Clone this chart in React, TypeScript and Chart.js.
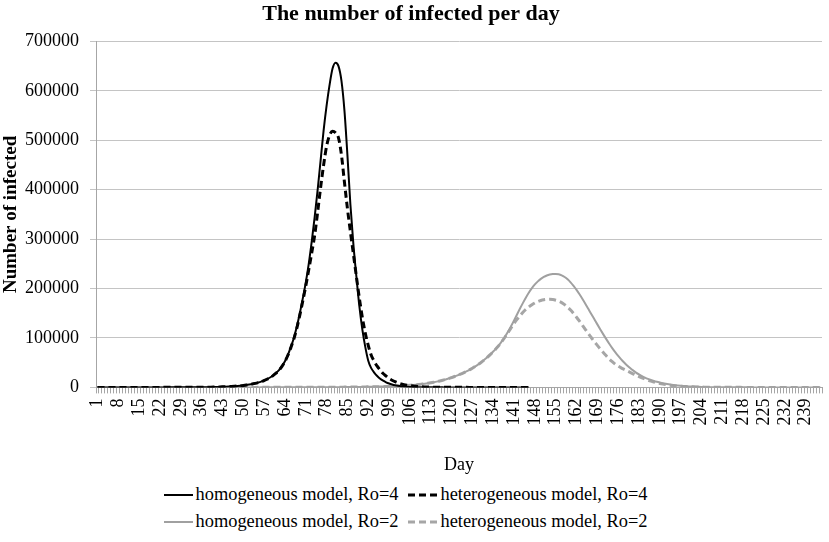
import { Chart, registerables } from "chart.js";
import React, { useEffect, useRef } from "react";

Chart.register(...registerables);

const SERIF = "'Liberation Serif', 'Times New Roman', serif";

// day categories 1..244
const days: string[] = Array.from({ length: 244 }, (_, i) => String(i + 1));

// homogeneous model, Ro=4 (days 1-146)
const homRo4: number[] = [
    1, 1, 2, 2, 3, 3, 4, 5, 6, 7,
    8, 10, 11, 13, 15, 18, 21, 24, 28, 32,
    37, 43, 50, 58, 67, 78, 90, 105, 120, 140,
    160, 190, 220, 260, 300, 350, 410, 475, 555, 650,
    780, 940, 1120, 1350, 1620, 1950, 2340, 2800, 3350, 4000,
    4800, 5800, 6900, 8200, 9800, 11700, 14000, 16700, 20000, 24000,
    29000, 35000, 43000, 53000, 66000, 82000, 100000, 123000, 150000, 180000,
    212000, 250000, 295000, 345000, 400000, 460000, 520000, 570000, 612000, 645000,
    657000, 650000, 620000, 560000, 470000, 370000, 290000, 225000, 165000, 118000,
    82000, 54000, 39000, 30000, 23000, 17500, 13500, 10300, 7800, 5900,
    4400, 3300, 2500, 1900, 1400, 1050, 800, 600, 450, 340,
    260, 200, 150, 115, 90, 70, 55, 45, 36, 30,
    25, 21, 18, 15, 13, 11, 10, 9, 8, 7,
    6, 6, 5, 5, 4, 4, 4, 3, 3, 3,
    3, 2, 2, 2, 2, 2,
];

// heterogeneous model, Ro=4 (days 1-146)
const hetRo4: number[] = [
    1, 1, 2, 2, 3, 3, 4, 5, 6, 7,
    8, 10, 11, 13, 15, 18, 21, 24, 28, 32,
    37, 43, 50, 58, 67, 78, 90, 104, 120, 138,
    158, 186, 216, 254, 295, 344, 402, 466, 545, 635,
    770, 925, 1100, 1330, 1600, 1920, 2300, 2760, 3300, 3950,
    4750, 5700, 6800, 8100, 9700, 11600, 13900, 16500, 19800, 23800,
    28800, 34700, 42500, 52500, 65000, 80500, 98000, 120000, 146000, 175000,
    205000, 238000, 272000, 308000, 355000, 405000, 450000, 488000, 510000, 518000,
    515000, 505000, 470000, 415000, 362000, 315000, 270000, 225000, 181000, 142000,
    110000, 85000, 65000, 53000, 43000, 35000, 28000, 23000, 18000, 14500,
    11500, 9000, 7000, 5500, 4300, 3400, 2700, 2100, 1650, 1300,
    1000, 800, 630, 500, 400, 320, 260, 210, 170, 140,
    115, 95, 80, 66, 55, 46, 39, 33, 28, 24,
    21, 18, 16, 14, 12, 11, 10, 9, 8, 7,
    6, 6, 5, 5, 4, 4,
];

// homogeneous model, Ro=2 (days 1-244)
const homRo2: number[] = [
    1, 1, 1, 1, 1, 1, 1, 2, 2, 2,
    2, 2, 2, 2, 3, 3, 3, 3, 3, 4,
    4, 4, 4, 5, 5, 5, 6, 6, 7, 7,
    8, 8, 9, 10, 10, 11, 12, 13, 14, 15,
    16, 18, 19, 21, 22, 24, 26, 28, 30, 33,
    36, 39, 42, 46, 50, 54, 59, 64, 70, 76,
    83, 90, 98, 107, 116, 127, 138, 150, 163, 178,
    194, 211, 230, 250, 272, 296, 322, 350, 380, 413,
    448, 487, 529, 575, 624, 678, 736, 799, 867, 941,
    1020, 1110, 1210, 1320, 1440, 1570, 1710, 1870, 2040, 2230,
    2450, 2700, 3000, 3350, 3750, 4200, 4700, 5300, 5950, 6700,
    7500, 8400, 9400, 10500, 11700, 13000, 14500, 16100, 17900, 19900,
    22000, 24300, 26800, 29500, 32400, 35500, 38900, 42600, 46600, 51000,
    55800, 61000, 66600, 72600, 79000, 86000, 94000, 103000, 113000, 124000,
    135500, 147500, 159500, 171000, 182000, 192000, 200800, 208300, 214500, 219500,
    223400, 226300, 228300, 229400, 229600, 228800, 226800, 223400, 218600, 212500,
    205300, 197200, 188300, 178800, 168800, 158500, 148100, 137800, 127500, 117300,
    107300, 97600, 88300, 79500, 71300, 63700, 56700, 50300, 44500, 39200,
    34400, 30000, 26200, 22800, 19900, 17300, 15000, 13000, 11300, 9800,
    8400, 7200, 6200, 5300, 4500, 3800, 3200, 2700, 2250, 1900,
    1600, 1330, 1110, 920, 770, 640, 530, 440, 365, 300,
    250, 205, 170, 140, 116, 96, 79, 65, 54, 45,
    37, 30, 25, 21, 17, 14, 12, 10, 8, 7,
    6, 5, 4, 3, 3, 3, 2, 2, 2, 1,
    1, 1, 1, 1,
];

// heterogeneous model, Ro=2 (days 1-244)
const hetRo2: number[] = [
    1, 1, 1, 1, 1, 1, 2, 2, 2, 2,
    2, 2, 2, 3, 3, 3, 3, 3, 4, 4,
    4, 4, 5, 5, 5, 6, 6, 7, 7, 8,
    8, 9, 9, 10, 11, 12, 13, 14, 15, 16,
    17, 18, 20, 21, 23, 25, 27, 29, 31, 34,
    37, 40, 43, 47, 51, 55, 60, 65, 71, 77,
    84, 91, 99, 108, 117, 128, 139, 151, 164, 179,
    195, 212, 231, 251, 273, 297, 323, 351, 381, 414,
    449, 488, 530, 576, 625, 679, 737, 800, 868, 942,
    1020, 1110, 1210, 1320, 1440, 1570, 1710, 1870, 2040, 2230,
    2450, 2700, 3000, 3350, 3750, 4200, 4700, 5300, 5950, 6700,
    7500, 8400, 9400, 10500, 11700, 13000, 14500, 16100, 17900, 19900,
    22000, 24300, 26800, 29500, 32400, 35500, 38900, 42600, 46600, 51000,
    55700, 60800, 66300, 72200, 78600, 85500, 93500, 102000, 111000, 120500,
    129500, 137500, 145000, 152000, 158000, 163000, 167300, 170900, 173800, 175900,
    177300, 178100, 178300, 177700, 176400, 174400, 171600, 167500, 162500, 156500,
    149500, 142000, 134000, 125500, 117000, 108500, 100500, 92500, 85000, 77500,
    70500, 64000, 57500, 52000, 47000, 43000, 39500, 36500, 33500, 30500,
    27500, 24500, 21800, 19200, 16800, 14600, 12600, 10800, 9200, 7800,
    6600, 5600, 4700, 3950, 3300, 2750, 2300, 1900, 1600, 1330,
    1100, 920, 760, 630, 520, 430, 355, 295, 245, 200,
    165, 137, 113, 94, 78, 64, 53, 44, 36, 30,
    25, 21, 17, 14, 12, 10, 8, 7, 6, 5,
    4, 4, 3, 3, 2, 2, 2, 2, 1, 1,
    1, 1, 1, 1,
];

interface SeriesStyle {
    label: string;
    data: number[];
    color: string;
    width: number;
    dash: number[];
}

const series: SeriesStyle[] = [
    { label: "homogeneous model, Ro=4", data: homRo4, color: "#000000", width: 2, dash: [] },
    { label: "heterogeneous model, Ro=4", data: hetRo4, color: "#000000", width: 3, dash: [7, 4] },
    { label: "homogeneous model, Ro=2", data: homRo2, color: "#a0a0a0", width: 2, dash: [] },
    { label: "heterogeneous model, Ro=2", data: hetRo2, color: "#a6a6a6", width: 3, dash: [7, 4] },
];

const LegendItem: React.FC<{ s: SeriesStyle }> = ({ s }) => (
    <span style={{ display: "inline-flex", alignItems: "center", marginRight: 10 }}>
        <svg width={29} height={10} style={{ marginRight: 3 }}>
            <line
                x1={0}
                y1={5}
                x2={29}
                y2={5}
                stroke={s.color}
                strokeWidth={s.width}
                strokeDasharray={s.dash.length ? s.dash.join(" ") : undefined}
            />
        </svg>
        <span>{s.label}</span>
    </span>
);

const App: React.FC = () => {
    const chartRef = useRef<HTMLCanvasElement | null>(null);
    const chartInstance = useRef<Chart | null>(null);

    useEffect(() => {
        if (!chartRef.current) return;
        const ctx = chartRef.current.getContext("2d");
        if (!ctx) return;

        Chart.defaults.font.family = SERIF;
        Chart.defaults.color = "#000000";

        chartInstance.current = new Chart(ctx, {
            type: "line",
            data: {
                labels: days,
                datasets: series.map((s) => ({
                    label: s.label,
                    data: s.data,
                    borderColor: s.color,
                    backgroundColor: s.color,
                    borderWidth: s.width,
                    borderDash: s.dash,
                    pointRadius: 0,
                    fill: false,
                    cubicInterpolationMode: "monotone" as const,
                })),
            },
            options: {
                animation: false,
                responsive: true,
                maintainAspectRatio: false,
                layout: { padding: { left: 0, right: 7, top: 0, bottom: 0 } },
                plugins: {
                    legend: { display: false },
                    tooltip: { enabled: false },
                    title: {
                        display: true,
                        text: "The number of infected per day",
                        color: "#000000",
                        font: { family: SERIF, size: 22, weight: "bold" },
                        padding: { top: 1, bottom: 14 },
                    },
                },
                scales: {
                    x: {
                        type: "category",
                        offset: true,
                        grid: {
                            offset: true,
                            drawOnChartArea: false,
                            drawTicks: true,
                            tickLength: 6,
                            color: "#a6a6a6",
                        },
                        border: { color: "#a6a6a6" },
                        ticks: {
                            autoSkip: false,
                            minRotation: 90,
                            maxRotation: 90,
                            padding: 5,
                            color: "#000000",
                            font: { family: SERIF, size: 18 },
                            // label every 7th day: 1, 8, 15, ...
                            callback: (_value, index) => (index % 7 === 0 ? days[index] : ""),
                        },
                        title: {
                            display: true,
                            text: "Day",
                            color: "#000000",
                            font: { family: SERIF, size: 18 },
                            padding: { top: 24, bottom: 0 },
                        },
                        // rotated labels need no side room; let the plot reach the edges
                        afterFit: (scale) => {
                            scale.paddingLeft = 0;
                            scale.paddingRight = 0;
                        },
                    },
                    y: {
                        min: 0,
                        max: 700000,
                        grid: { color: "#c4c4c4", tickLength: 6 },
                        border: { color: "#a6a6a6" },
                        ticks: {
                            stepSize: 100000,
                            padding: 11,
                            color: "#000000",
                            font: { family: SERIF, size: 18 },
                            callback: (value) => String(value),
                        },
                        title: {
                            display: true,
                            text: "Number of infected",
                            color: "#000000",
                            font: { family: SERIF, size: 19, weight: "bold" },
                            padding: { top: 0, bottom: 1 },
                        },
                        afterFit: (scale) => {
                            scale.width = 96;
                        },
                    },
                },
            },
        });

        return () => {
            if (chartInstance.current) {
                chartInstance.current.destroy();
                chartInstance.current = null;
            }
        };
    }, []);

    return (
        <div
            style={{
                position: "absolute",
                left: 0,
                top: 0,
                width: 829,
                height: 542,
                background: "#ffffff",
                fontFamily: SERIF,
            }}
        >
            <div style={{ position: "absolute", left: 0, top: 0, width: 829, height: 476 }}>
                <canvas ref={chartRef}></canvas>
            </div>
            <div
                style={{
                    position: "absolute",
                    left: 0,
                    top: 481,
                    width: 829,
                    boxSizing: "border-box",
                    paddingRight: 8,
                    fontSize: 18.4,
                    color: "#000000",
                }}
            >
                {[0, 2].map((start) => (
                    <div
                        key={start}
                        style={{ display: "flex", justifyContent: "center", height: 27, lineHeight: "27px" }}
                    >
                        <LegendItem s={series[start]} />
                        <LegendItem s={series[start + 1]} />
                    </div>
                ))}
            </div>
        </div>
    );
};

export default App;
